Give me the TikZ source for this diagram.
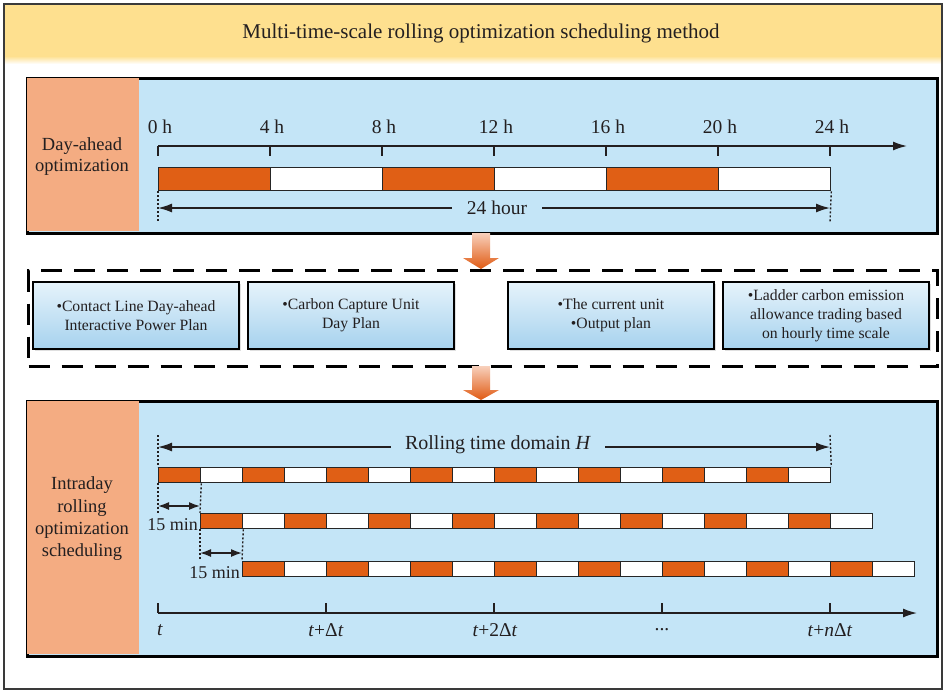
\documentclass[tikz,border=0pt]{standalone}
\usepackage{fontspec}
\setmainfont{Liberation Serif}
\usetikzlibrary{arrows.meta,shadows}
\definecolor{textc}{HTML}{231F20}
\definecolor{titley}{HTML}{FEE08F}
\definecolor{panelblue}{HTML}{C4E5F7}
\definecolor{labelor}{HTML}{F4AC82}
\definecolor{baror}{HTML}{E05F15}
\definecolor{boxtop}{HTML}{E6F3FB}
\definecolor{boxbot}{HTML}{A6D2EE}
\definecolor{arrtop}{HTML}{F8D0BC}
\definecolor{arrbot}{HTML}{E05A12}
\definecolor{frameg}{HTML}{3A3A3A}
\tikzset{
  lbl/.style={text=textc, inner sep=0pt, align=center},
  ticklbl/.style={lbl, font=\fontsize{19.5}{22}\selectfont},
  panelbox/.style={draw=black, line width=2.5pt, inner sep=0pt, anchor=north west,
    drop shadow={opacity=0.25, shadow xshift=1.5pt, shadow yshift=-2pt}},
  segbox/.style={draw=black!85, line width=1.3pt, inner sep=0pt, anchor=north west},
  infobox/.style={draw=black, line width=2pt, inner sep=0pt, minimum width=206pt, minimum height=67pt,
    top color=boxtop, bottom color=boxbot, text=textc, align=center,
    font=\fontsize{15.7}{19}\selectfont,
    drop shadow={opacity=0.25, shadow xshift=1.5pt, shadow yshift=-1.5pt}},
  axisline/.style={line width=1.5pt, draw=textc},
  bigarr/.style={line width=1.5pt, draw=textc, -{Latex[length=14pt,width=9pt]}},
  smallarr/.style={line width=1.5pt, draw=textc, {Latex[length=11pt,width=8pt]}-{Latex[length=11pt,width=8pt]}},
  dotline/.style={line width=1.4pt, draw=textc, dash pattern=on 2pt off 2pt},
  blockarr/.style={top color=arrtop, bottom color=arrbot, draw=none},
}
\begin{document}
\begin{tikzpicture}[x=1pt,y=-1pt]
\useasboundingbox (0,0) rectangle (944,691);
% outer frame and title band
\fill[white] (0,0) rectangle (944,691);
\fill[titley] (3,3) rectangle (941,56);
\shade[top color=titley, bottom color=white] (3,56) rectangle (941,64);
\node[draw=frameg, line width=1.8pt, inner sep=0pt, anchor=north west, minimum width=938pt, minimum height=685pt] (frame) at (3,3) {};
\node[lbl, font=\fontsize{21}{25}\selectfont] (title) at (481,33) {Multi-time-scale rolling optimization scheduling method};

% ---------- Day-ahead panel ----------
\node[panelbox, fill=panelblue, minimum width=910pt, minimum height=155pt] (p1) at (26,77) {};
\fill[labelor] (27.25,78.25) rectangle (139,230.75);
\node[lbl, font=\fontsize{18.5}{21}\selectfont] (l1) at (82,157) {Day-ahead\\optimization};

\coordinate (ax0) at (158,146);
\coordinate (axE) at (907,146);
\draw[bigarr] (ax0) -- (axE);
\foreach \i/\h in {0/0,1/4,2/8,3/12,4/16,5/20,6/24}{
  \draw[axisline] (158+112*\i,146) -- (158+112*\i,156);
  \node[ticklbl] (h\i) at (160+112*\i,127) {\h\ h};
}
\foreach \i in {0,2,4}{ \node[segbox, fill=baror, minimum width=112pt, minimum height=23pt] (d\i) at (158+112*\i,167) {}; }
\foreach \i in {1,3,5}{ \node[segbox, fill=white, minimum width=112pt, minimum height=23pt] (d\i) at (158+112*\i,167) {}; }

\draw[dotline] (d0.south west) -- (158,222);
\draw[dotline] (d5.south east) -- (830,222);
\coordinate (dl) at (158,208);
\coordinate (dr) at (830,208);
\node[ticklbl, inner xsep=15pt] (dur) at (497,208) {24 hour};
\draw[bigarr] (dur.west |- dl) -- (dl);
\draw[bigarr] (dur.east |- dr) -- (dr);

% block arrow 1
\path[blockarr] (472,233) -- (490,233) -- (490,258) -- (499,258) -- (481,269) -- (463,258) -- (472,258) -- cycle;

% ---------- dashed box ----------
\node[draw=black, line width=3pt, dash pattern=on 21pt off 12pt, inner sep=0pt, anchor=north west,
  minimum width=909pt, minimum height=96pt] (db) at (27,269) {};
\node[infobox] (b1) at (136,315.5) {\textbullet Contact Line Day-ahead\\Interactive Power Plan};
\node[infobox] (b2) at (351,315.5) {\textbullet Carbon Capture Unit\\Day Plan};
\node[infobox] (b3) at (611,315.5) {\textbullet The current unit\\\textbullet Output plan};
\node[infobox] (b4) at (826,315.5) {\textbullet Ladder carbon emission\\allowance trading based\\on hourly time scale};

% block arrow 2
\path[blockarr] (472,366) -- (490,366) -- (490,390) -- (499,390) -- (481,400) -- (463,390) -- (472,390) -- cycle;

% ---------- Intraday panel ----------
\node[panelbox, fill=panelblue, minimum width=910pt, minimum height=255pt] (p2) at (26,400) {};
\fill[labelor] (27.25,401.25) rectangle (139,653.75);
\node[lbl, font=\fontsize{18.5}{22.3}\selectfont] (l2) at (82,519) {Intraday\\rolling\\optimization\\scheduling};

% rows
\foreach \r/\x/\y in {1/158/467,2/200/513,3/242/561}{
  \foreach \i in {0,2,...,14}{ \node[segbox, fill=baror, minimum width=42pt, minimum height=15pt] (r\r-\i) at (\x+42*\i,\y) {}; }
  \foreach \i in {1,3,...,15}{ \node[segbox, fill=white, minimum width=42pt, minimum height=15pt] (r\r-\i) at (\x+42*\i,\y) {}; }
}

% rolling time domain
\draw[dotline] (158,435) -- (r1-0.north west);
\draw[dotline] (830,435) -- (r1-15.north east);
\coordinate (rl) at (158,447);
\coordinate (rr) at (830,447);
\node[lbl, font=\fontsize{20}{24}\selectfont, inner xsep=14pt] (rd) at (498,445) {Rolling time domain \textit{H}};
\draw[bigarr] (rd.west |- rl) -- (rl);
\draw[bigarr] (rd.east |- rr) -- (rr);

% 15 min steps
\draw[dotline] (r1-0.south west) -- (158,513);
\draw[dotline] (r1-0.south east) -- (r2-0.north west);
\draw[smallarr] (158,506) -- (200,506);
\node[lbl, font=\fontsize{18}{21}\selectfont, anchor=east] (m1) at (198,525) {15 min};
\draw[dotline] (r2-0.south west) -- (200,561);
\draw[dotline] (r2-0.south east) -- (r3-0.north west);
\draw[smallarr] (200,553) -- (242,553);
\node[lbl, font=\fontsize{18}{21}\selectfont, anchor=east] (m2) at (240,573) {15 min};

% bottom axis
\coordinate (bx0) at (158,613);
\coordinate (bxE) at (917,613);
\draw[bigarr] (bx0) -- (bxE);
\foreach \i in {0,...,4}{ \draw[axisline] (158+168*\i,603) -- (158+168*\i,613); }
\node[ticklbl] (t0) at (160,630) {\textit{t}};
\node[ticklbl] (t1) at (326,630) {\textit{t}+Δ\textit{t}};
\node[ticklbl] (t2) at (495,630) {\textit{t}+2Δ\textit{t}};
\node[ticklbl] (t3) at (662,630) {...};
\node[ticklbl] (t4) at (830,630) {\textit{t}+\textit{n}Δ\textit{t}};
\end{tikzpicture}
\end{document}
